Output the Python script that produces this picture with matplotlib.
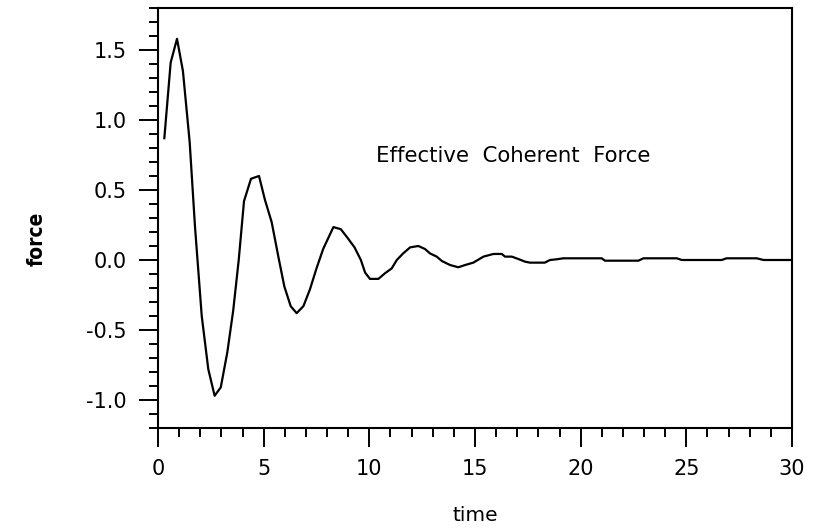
import matplotlib
matplotlib.use('Agg')
import matplotlib.pyplot as plt
from matplotlib.ticker import MultipleLocator

# vertices
time = [0.3, 0.6, 0.9, 1.18, 1.5, 1.75, 2.07, 2.38, 2.68, 2.97,
        3.28, 3.56, 3.82, 4.07, 4.4, 4.78, 5.06, 5.38, 5.7, 5.98,
        6.28, 6.56, 6.88, 7.19, 7.5, 7.82, 8.3, 8.65, 8.96, 9.3,
        9.6, 9.8, 10.03, 10.43, 10.74, 11.06, 11.3, 11.6, 11.93, 12.32,
        12.64, 12.87, 13.19, 13.43, 13.82, 14.21, 14.53, 14.92, 15.4, 15.87,
        16.27, 16.42, 16.74, 17.05, 17.37, 17.6, 18.3, 18.55, 18.87, 19.18,
        21.0, 21.15, 22.73, 22.97, 24.55, 24.78, 26.68, 26.9, 28.33, 28.65,
        30.0]
force = [0.87, 1.41, 1.58, 1.35, 0.84, 0.24, -0.40, -0.78, -0.97, -0.91,
         -0.66, -0.36, 0.0, 0.42, 0.58, 0.60, 0.43, 0.27, 0.02, -0.19,
         -0.33, -0.38, -0.33, -0.21, -0.06, 0.08, 0.235, 0.22, 0.16, 0.09,
         0.0, -0.09, -0.135, -0.135, -0.095, -0.06, 0.0, 0.047, 0.09, 0.10,
         0.078, 0.047, 0.024, -0.007, -0.036, -0.052, -0.036, -0.019, 0.024, 0.043,
         0.043, 0.024, 0.024, 0.007, -0.012, -0.019, -0.019, 0.0, 0.005, 0.012,
         0.012, -0.005, -0.005, 0.012, 0.012, 0.0, 0.0, 0.012, 0.012, 0.0,
         0.0]

xticks = [0, 5, 10, 15, 20, 25, 30]
yticks = [-1.0, -0.5, 0.0, 0.5, 1.0, 1.5]

fig = plt.figure(figsize=(8.22, 5.30), dpi=100)
ax = fig.add_axes([0.1922, 0.1925, 0.7713, 0.7924])

ax.plot(time, force, color='black', linewidth=1.6)

ax.set_xlim(0, 30)
ax.set_ylim(-1.2, 1.8)
ax.set_xticks(xticks)
ax.set_xticklabels([str(t) for t in xticks])
ax.set_yticks(yticks)
ax.set_yticklabels(['%.1f' % v for v in yticks])
ax.xaxis.set_minor_locator(MultipleLocator(1))
ax.yaxis.set_minor_locator(MultipleLocator(0.1))

for s in ax.spines.values():
    s.set_linewidth(1.5)

ax.tick_params(which='both', direction='out', top=False, right=False,
               width=1.4, colors='black')
ax.tick_params(which='major', length=13.5, labelsize=15, pad=9)
ax.tick_params(which='minor', length=6.5)

ax.set_xlabel('time', fontsize=14.5)
ax.xaxis.set_label_coords(0.5, -0.185)
# the original label uses a chunky condensed screen font
ax.set_ylabel('force', fontsize=15, family=['Liberation Sans Narrow', 'DejaVu Sans'],
              stretch='condensed', weight='bold')
ax.yaxis.set_label_coords(-0.175, 0.45)

ax.text(0.561, 0.648, 'Effective  Coherent  Force', transform=ax.transAxes,
        ha='center', va='center', fontsize=15.3)

fig.savefig('out.png', dpi=100)
plt.close(fig)
